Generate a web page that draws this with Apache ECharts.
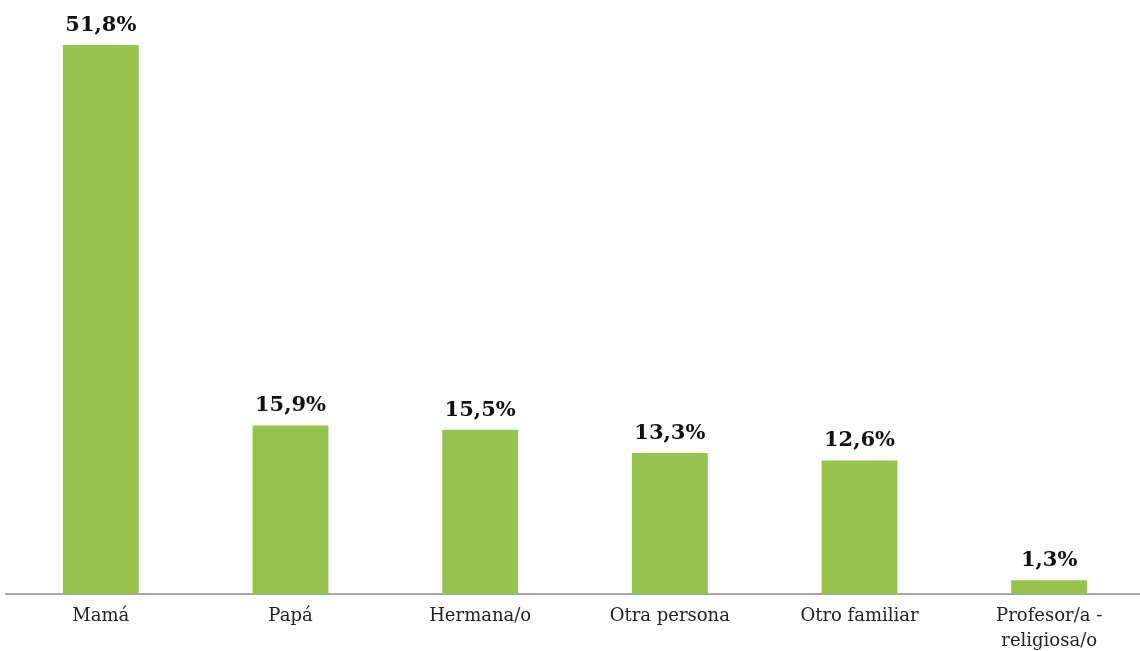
<!DOCTYPE html>
<html>
<head>
<meta charset="utf-8">
<script src="https://cdn.jsdelivr.net/npm/echarts@6/dist/echarts.min.js"></script>
<style>
  html, body { margin: 0; padding: 0; background: #fff; }
  #chart { width: 1140px; height: 651px; }
</style>
</head>
<body>
<div id="chart"></div>
<script>
// Categories and percentage values
const categories = ['Mamá', 'Papá', 'Hermana/o', 'Otra persona', 'Otro familiar', 'Profesor/a -\nreligiosa/o'];
const values = [51.8, 15.9, 15.5, 13.3, 12.6, 1.3];

const chart = echarts.init(document.getElementById('chart'));
chart.setOption({
  animation: false,
  grid: { left: 6, width: 1138, top: 45, bottom: 57, containLabel: false, outerBoundsMode: 'none' },
  xAxis: {
    type: 'category',
    data: categories,
    axisLine: { lineStyle: { color: '#a6a6a6', width: 2 } },
    axisTick: { show: false },
    axisLabel: {
      interval: 0,
      margin: 10,
      color: '#222',
      fontFamily: 'DejaVu Serif',
      fontSize: 18,
      lineHeight: 25
    }
  },
  yAxis: {
    type: 'value',
    min: 0,
    max: 51.8,
    show: false,
    splitLine: { show: false }
  },
  series: [{
    type: 'bar',
    data: values,
    barWidth: '40%',
    itemStyle: { color: '#95c34d' },
    label: {
      show: true,
      position: 'top',
      distance: 9,
      color: '#111',
      fontFamily: 'DejaVu Serif',
      fontWeight: 900,
      fontSize: 21,
      formatter: p => p.value.toFixed(1).replace('.', ',') + '%'
    }
  }]
});
</script>
</body>
</html>
